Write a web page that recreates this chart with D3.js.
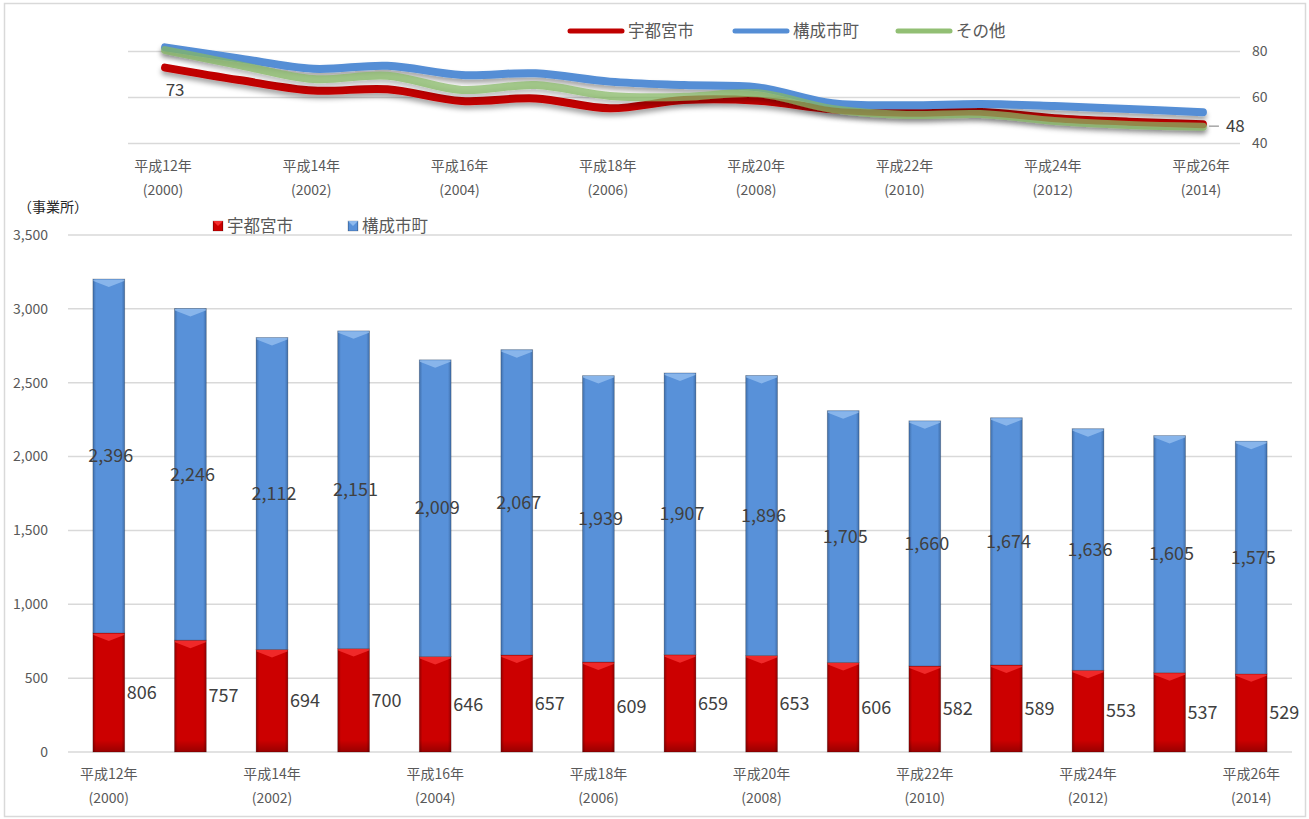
<!DOCTYPE html>
<html><head><meta charset="utf-8">
<script src="https://cdn.jsdelivr.net/npm/d3@7"></script>
<style>
html,body{margin:0;padding:0;background:#fff;}
text{font-family:"Noto Sans CJK JP","Noto Sans",sans-serif;}
</style></head>
<body>
<svg id="c" width="1309" height="819"></svg>
<script>
// ---- data ----
const categories = ["平成12年","平成13年","平成14年","平成15年","平成16年","平成17年","平成18年","平成19年","平成20年","平成21年","平成22年","平成23年","平成24年","平成25年","平成26年"];
const westernYears = ["(2000)","(2001)","(2002)","(2003)","(2004)","(2005)","(2006)","(2007)","(2008)","(2009)","(2010)","(2011)","(2012)","(2013)","(2014)"];
const utsunomiya = [806,757,694,700,646,657,609,659,653,606,582,589,553,537,529];
const kosei = [2396,2246,2112,2151,2009,2067,1939,1907,1896,1705,1660,1674,1636,1605,1575];
const lineUtsunomiya = [73,67.6,63,63.6,58.5,59.6,55.3,58.9,58.6,54.9,53.4,53.8,51,49.5,48.4];
const lineKosei = [81.8,77,72.5,73.8,69.8,70.5,66.9,65.4,64.4,57.5,56.6,57.2,56.3,55,53.6];
const lineOther = [80.6,74.1,68,69.5,63.3,65.4,60.7,60.3,61.8,55,52.4,52.8,49.8,48,47.3];
const barTicks = [0,500,1000,1500,2000,2500,3000,3500];
const lineTicks = [40,60,80];
const seriesNames = ["宇都宮市","構成市町","その他"];

const svg = d3.select("#c");
const fmt = d3.format(",");
const axisColor = "#595959";
const gridColor = "#d9d9d9";

// frame
svg.append("rect").attr("x",4.5).attr("y",3.5).attr("width",1301).attr("height",813)
  .attr("fill","none").attr("stroke","#d9d9d9").attr("stroke-width",1.5);

const defs = svg.append("defs");
const f = defs.append("filter").attr("id","shadow").attr("x","-5%").attr("y","-50%").attr("width","110%").attr("height","200%");
f.append("feDropShadow").attr("dx",0).attr("dy",4).attr("stdDeviation",2.5).attr("flood-color","#000").attr("flood-opacity",0.35);

function hGrad(id, edge, mid){
  const g = defs.append("linearGradient").attr("id",id).attr("x1","0").attr("x2","1").attr("y1","0").attr("y2","0");
  g.append("stop").attr("offset","0").attr("stop-color",edge);
  g.append("stop").attr("offset","0.1").attr("stop-color",mid);
  g.append("stop").attr("offset","0.9").attr("stop-color",mid);
  g.append("stop").attr("offset","1").attr("stop-color",edge);
}
hGrad("gRed","#900000","#cc0000");
hGrad("gBlue","#3f6eaa","#5891d9");
const vShade = defs.append("linearGradient").attr("id","gBottom").attr("x1","0").attr("x2","0").attr("y1","0").attr("y2","1");
vShade.append("stop").attr("offset","0").attr("stop-color","#000").attr("stop-opacity",0);
vShade.append("stop").attr("offset","1").attr("stop-color","#000").attr("stop-opacity",0.25);

// ================= TOP LINE CHART =================
const xL = d3.scaleBand().domain(categories).range([128,1240]);
const yL = d3.scaleLinear().domain([40,80]).range([143.5,51.5]);
const topG = svg.append("g");
topG.selectAll("line.grid").data(lineTicks).join("line")
  .attr("x1",128).attr("x2",1240).attr("y1",d=>yL(d)).attr("y2",d=>yL(d))
  .attr("stroke",gridColor).attr("stroke-width",1.5);
topG.selectAll("text.ytick").data(lineTicks).join("text")
  .attr("x",1252).attr("y",d=>yL(d)).attr("dy","0.35em")
  .attr("font-size",14).attr("fill",axisColor).text(d=>d);

const cx = d => xL(d)+xL.bandwidth()/2;
const labelCats = categories.filter((c,i)=>i%2===0);
topG.selectAll("text.xl1").data(labelCats).join("text")
  .attr("x",d=>cx(d)-2).attr("y",171).attr("text-anchor","middle")
  .attr("font-size",14).attr("fill",axisColor).text(d=>d);
topG.selectAll("text.xl2").data(labelCats).join("text")
  .attr("x",d=>cx(d)-2).attr("y",195).attr("text-anchor","middle")
  .attr("font-size",14).attr("fill",axisColor).text(d=>westernYears[categories.indexOf(d)]);

const lineGen = d3.line().x((d,i)=>cx(categories[i])).y(d=>yL(d)).curve(d3.curveCatmullRom.alpha(0.5));
const lineSeries = [
  {name:seriesNames[0], vals:lineUtsunomiya, color:"#c00000", op:1},
  {name:seriesNames[1], vals:lineKosei, color:"#558ed5", op:1},
  {name:seriesNames[2], vals:lineOther, color:"#86b865", op:0.72}
];
lineSeries.forEach(s=>{
  topG.append("path").attr("d",lineGen(s.vals)).attr("fill","none")
    .attr("stroke",s.color).attr("stroke-width",8).attr("stroke-linecap","round")
    .attr("stroke-opacity",s.op).attr("filter","url(#shadow)");
});
// data labels on 宇都宮市 line
topG.append("text").attr("x",cx(categories[0])+10).attr("y",yL(lineUtsunomiya[0])+22)
  .attr("text-anchor","middle").attr("dy","0.35em").attr("font-size",17).attr("fill","#404040")
  .text(d3.format(".0f")(lineUtsunomiya[0]));
const lastI = categories.length-1;
topG.append("line").attr("x1",cx(categories[lastI])+6).attr("x2",cx(categories[lastI])+16)
  .attr("y1",yL(lineUtsunomiya[lastI])+2).attr("y2",yL(lineUtsunomiya[lastI])+2)
  .attr("stroke","#a6a6a6").attr("stroke-width",1.5);
topG.append("text").attr("x",cx(categories[lastI])+23).attr("y",yL(lineUtsunomiya[lastI])+2)
  .attr("dy","0.35em").attr("font-size",17).attr("fill","#404040")
  .text(d3.format(".0f")(lineUtsunomiya[lastI]));

// top legend
const legX = [570,735,898];
lineSeries.forEach((s,i)=>{
  topG.append("line").attr("x1",legX[i]).attr("x2",legX[i]+52).attr("y1",31).attr("y2",31)
    .attr("stroke",s.color).attr("stroke-width",5).attr("stroke-linecap","round").attr("stroke-opacity",s.op===1?1:0.9);
  topG.append("text").attr("x",legX[i]+58).attr("y",31).attr("dy","0.35em")
    .attr("font-size",16.5).attr("fill",axisColor).text(s.name);
});

// ================= BOTTOM BAR CHART =================
const xB = d3.scaleBand().domain(categories).range([68,1292]).paddingInner(0.61).paddingOuter(0.305);
const yB = d3.scaleLinear().domain([0,3500]).range([752,235]);
const bot = svg.append("g");
bot.selectAll("line.grid").data(barTicks).join("line")
  .attr("x1",68).attr("x2",1292).attr("y1",d=>yB(d)).attr("y2",d=>yB(d))
  .attr("stroke",gridColor).attr("stroke-width",1.5);
bot.selectAll("text.ytick").data(barTicks).join("text")
  .attr("x",48).attr("y",d=>yB(d)).attr("dy","0.35em").attr("text-anchor","end")
  .attr("font-size",14).attr("fill",axisColor).text(d=>fmt(d));
bot.append("text").attr("x",18).attr("y",207).attr("dy","0.35em")
  .attr("font-size",14).attr("fill","#262626").text("（事業所）");

const bcx = d => xB(d)+xB.bandwidth()/2;
bot.selectAll("text.xl1").data(labelCats).join("text")
  .attr("x",d=>bcx(d)).attr("y",779).attr("text-anchor","middle")
  .attr("font-size",14).attr("fill",axisColor).text(d=>d);
bot.selectAll("text.xl2").data(labelCats).join("text")
  .attr("x",d=>bcx(d)).attr("y",803).attr("text-anchor","middle")
  .attr("font-size",14).attr("fill",axisColor).text(d=>westernYears[categories.indexOf(d)]);

const stackData = categories.map((c,i)=>({cat:c, u:utsunomiya[i], k:kosei[i]}));
const w = xB.bandwidth();
function bevel(g, x, y0, y1, lightColor, fill, shadeBottom){
  g.append("rect").attr("x",x).attr("y",y0).attr("width",w).attr("height",y1-y0)
    .attr("fill",fill).attr("stroke","rgba(0,0,0,0.25)").attr("stroke-width",0.8);
  if(shadeBottom){
    g.append("rect").attr("x",x+0.5).attr("y",y1-12).attr("width",w-1).attr("height",12).attr("fill","url(#gBottom)");
  }
  const pts = [[x+0.5,y0+0.5],[x+w-0.5,y0+0.5],[x+w-0.5,y0+2],[x+w/2,y0+8],[x+0.5,y0+2]];
  g.append("polygon").attr("points",pts.map(p=>p.join(",")).join(" ")).attr("fill",lightColor).attr("opacity",0.7);
}
stackData.forEach(d=>{
  const x = xB(d.cat);
  const g = bot.append("g");
  bevel(g, x, yB(d.u), yB(0), "#ff3b3b", "url(#gRed)", true);
  bevel(g, x, yB(d.u+d.k), yB(d.u), "#9cc4f2", "url(#gBlue)", false);
  // labels
  bot.append("text").attr("x",bcx(d.cat)+2).attr("y",(yB(d.u+d.k)+yB(d.u))/2).attr("dy","0.35em")
    .attr("text-anchor","middle").attr("font-size",18).attr("fill","#404040").text(fmt(d.k));
  bot.append("text").attr("x",bcx(d.cat)+33).attr("y",(yB(d.u)+yB(0))/2).attr("dy","0.35em")
    .attr("text-anchor","middle").attr("font-size",18).attr("fill","#404040").text(fmt(d.u));
});

// bottom legend
const bl = [{n:seriesNames[0],c:"url(#gRed)",l:"#ff3b3b",x:213},{n:seriesNames[1],c:"url(#gBlue)",l:"#9cc4f2",x:348}];
bl.forEach(s=>{
  bot.append("rect").attr("x",s.x).attr("y",221).attr("width",10).attr("height",10).attr("fill",s.c)
    .attr("stroke","rgba(0,0,0,0.3)").attr("stroke-width",0.6);
  bot.append("polygon").attr("points",`${s.x},221 ${s.x+10},221 ${s.x+5},226`).attr("fill",s.l).attr("opacity",0.8);
  bot.append("text").attr("x",s.x+14).attr("y",226).attr("dy","0.35em").attr("font-size",16.5)
    .attr("fill",axisColor).text(s.n);
});
</script>
</body></html>
